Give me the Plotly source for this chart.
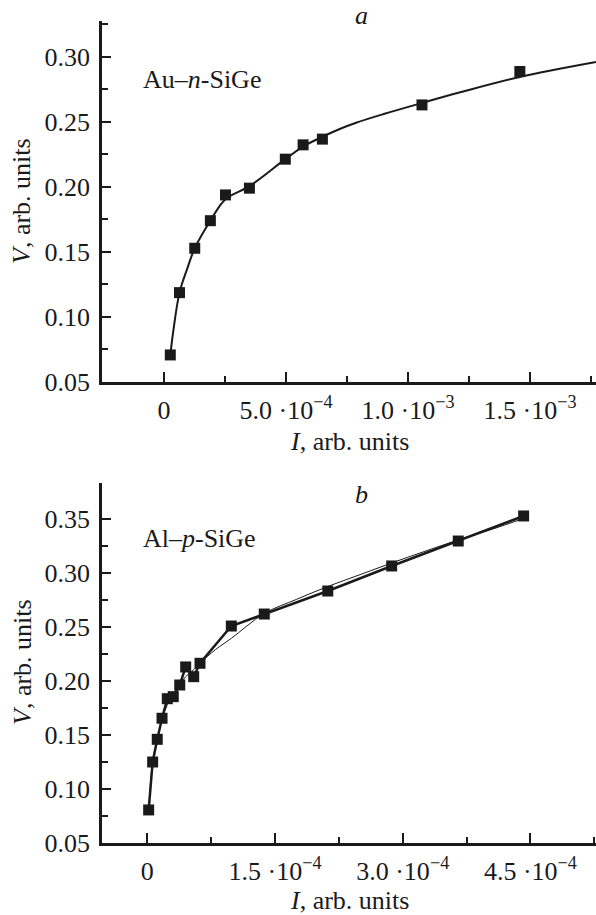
import plotly.graph_objects as go

# ---------------- Panel a : Au-n-SiGe ----------------
a_I = [2.58e-5, 6.35e-5, 1.26e-4, 1.90e-4, 2.52e-4, 3.50e-4, 4.97e-4, 5.70e-4, 6.49e-4, 1.057e-3, 1.458e-3]
a_V = [0.0708, 0.1187, 0.1528, 0.1740, 0.1938, 0.1990, 0.2213, 0.2323, 0.2367, 0.2630, 0.2887]
a_fit_I = [2.5e-5, 3.7e-5, 6.35e-5, 9.5e-5, 1.26e-4, 1.9e-4, 2.52e-4, 3.5e-4, 4.97e-4, 5.7e-4,
           6.49e-4, 7.2e-4, 7.9e-4, 9.0e-4, 1.057e-3, 1.21e-3, 1.458e-3, 1.77e-3]
a_fit_V = [0.069, 0.0875, 0.1187, 0.137, 0.1528, 0.174, 0.1905, 0.2005, 0.2213, 0.2310,
           0.2385, 0.2445, 0.2495, 0.2560, 0.2645, 0.2725, 0.2845, 0.2960]
a_xticks = [0, 5e-4, 1e-3, 1.5e-3]
a_xticktext = ["0", "5.0 ·10<sup>−4</sup>", "1.0 ·10<sup>−3</sup>", "1.5 ·10<sup>−3</sup>"]
a_xminor = [2.5e-4, 7.5e-4, 1.25e-3, 1.75e-3]
a_yticks = [0.05, 0.10, 0.15, 0.20, 0.25, 0.30]
a_yticktext = ["0.05", "0.10", "0.15", "0.20", "0.25", "0.30"]
a_yminor = [0.075, 0.125, 0.175, 0.225, 0.275, 0.325]

# ---------------- Panel b : Al-p-SiGe ----------------
b_I = [1.6e-6, 6.3e-6, 1.17e-5, 1.73e-5, 2.35e-5, 3.05e-5, 3.81e-5, 4.51e-5, 5.45e-5, 6.19e-5,
       9.87e-5, 1.374e-4, 2.12e-4, 2.87e-4, 3.652e-4, 4.42e-4]
b_V = [0.0806, 0.125, 0.146, 0.1655, 0.1836, 0.1855, 0.1963, 0.213, 0.204, 0.2164,
       0.2509, 0.262, 0.2833, 0.3065, 0.3296, 0.3528]
b_fit_I = [1.6e-6, 6.3e-6, 1.17e-5, 1.73e-5, 2.35e-5, 3.05e-5, 3.81e-5, 4.51e-5, 5.45e-5, 6.19e-5,
           8.0e-5, 9.87e-5, 1.374e-4, 1.75e-4, 2.12e-4, 2.5e-4, 2.87e-4, 3.25e-4, 3.65e-4, 4.05e-4, 4.42e-4]
b_fit_V = [0.0806, 0.125, 0.146, 0.1645, 0.178, 0.188, 0.197, 0.204, 0.2105, 0.2165,
           0.229, 0.2395, 0.2625, 0.2755, 0.2875, 0.2985, 0.3093, 0.3198, 0.3305, 0.3405, 0.3505]
b_xticks = [0, 1.5e-4, 3.0e-4, 4.5e-4]
b_xticktext = ["0", "1.5 ·10<sup>−4</sup>", "3.0 ·10<sup>−4</sup>", "4.5 ·10<sup>−4</sup>"]
b_xminor = [0.75e-4, 2.25e-4, 3.75e-4, 5.25e-4]
b_yticks = [0.05, 0.10, 0.15, 0.20, 0.25, 0.30, 0.35]
b_yticktext = ["0.05", "0.10", "0.15", "0.20", "0.25", "0.30", "0.35"]
b_yminor = [0.075, 0.125, 0.175, 0.225, 0.275, 0.325]

FONT = "Liberation Serif, Times New Roman, serif"
FS = 26
BLACK = "#1a1a1a"

fig = go.Figure()

# panel a
fig.add_trace(go.Scatter(x=a_fit_I, y=a_fit_V, mode="lines", line=dict(color=BLACK, width=2, shape="spline", smoothing=1.0),
                         xaxis="x", yaxis="y", hoverinfo="skip"))
fig.add_trace(go.Scatter(x=a_I, y=a_V, mode="markers", marker=dict(symbol="square", size=11, color=BLACK),
                         xaxis="x", yaxis="y"))
# panel b
fig.add_trace(go.Scatter(x=b_fit_I, y=b_fit_V, mode="lines", line=dict(color=BLACK, width=1, shape="spline", smoothing=1.0),
                         xaxis="x2", yaxis="y2", hoverinfo="skip"))
fig.add_trace(go.Scatter(x=b_I, y=b_V, mode="lines+markers", line=dict(color=BLACK, width=2.5),
                         marker=dict(symbol="square", size=11, color=BLACK),
                         xaxis="x2", yaxis="y2"))


def xaxis(rng, tv, tt, minor, anchor):
    return dict(range=rng, tickmode="array", tickvals=tv, ticktext=tt, showgrid=False, zeroline=False,
                showline=True, linecolor=BLACK, linewidth=2.5, ticks="inside", ticklen=10, tickwidth=1.5,
                tickcolor=BLACK, tickfont=dict(family=FONT, size=FS, color=BLACK), anchor=anchor,
                ticklabelstandoff=3,
                minor=dict(tickmode="array", tickvals=minor, ticks="inside", ticklen=6, tickwidth=1.5, tickcolor=BLACK))


def yaxis(rng, tv, tt, minor, dom, anchor):
    return dict(range=rng, domain=dom, tickmode="array", tickvals=tv, ticktext=tt, showgrid=False, zeroline=False,
                showline=True, linecolor=BLACK, linewidth=2.5, ticks="inside", ticklen=9, tickwidth=1.5,
                tickcolor=BLACK, tickfont=dict(family=FONT, size=FS, color=BLACK), anchor=anchor,
                ticklabelstandoff=4,
                minor=dict(tickmode="array", tickvals=minor, ticks="inside", ticklen=6, tickwidth=1.5, tickcolor=BLACK))


L, R, T, B = 102, 0, 21, 72
W, H = 596, 915
ph = H - T - B


def py(pix):
    return (H - B - pix) / ph


def px(pix):
    return (pix - L) / (W - L - R)


fig.update_layout(
    width=W, height=H, margin=dict(l=L, r=R, t=T, b=B),
    paper_bgcolor="white", plot_bgcolor="white", showlegend=False,
    font=dict(family=FONT, size=FS, color=BLACK),
    xaxis=xaxis([-2.54e-4, 1.77e-3], a_xticks, a_xticktext, a_xminor, "y"),
    yaxis=yaxis([0.05, 0.3275], a_yticks, a_yticktext, a_yminor, [py(382), 1.0], "x"),
    xaxis2=xaxis([-0.532e-4, 5.27e-4], b_xticks, b_xticktext, b_xminor, "y2"),
    yaxis2=yaxis([0.05, 0.3836], b_yticks, b_yticktext, b_yminor, [0.0, py(482.7)], "x2"),
)

ann = [
    dict(text="<i>I</i>, arb. units", x=px(349), y=py(441)),
    dict(text="<i>I</i>, arb. units", x=px(349), y=py(900)),
    dict(text="<i>V</i>, arb. units", x=px(22), y=py(201), textangle=-90),
    dict(text="<i>V</i>, arb. units", x=px(22), y=py(662), textangle=-90),
    dict(text="<i>a</i>", x=px(361), y=py(16)),
    dict(text="<i>b</i>", x=px(361), y=py(494)),
    dict(text="Au–<i>n</i>-SiGe", x=px(141), y=py(79), xanchor="left"),
    dict(text="Al–<i>p</i>-SiGe", x=px(141), y=py(538), xanchor="left"),
]
for a in ann:
    base = dict(xref="paper", yref="paper", showarrow=False, xanchor="center", yanchor="middle",
                font=dict(family=FONT, size=FS, color=BLACK))
    base.update(a)
    fig.add_annotation(**base)

fig.write_html("out.html", config={"displayModeBar": False},
               post_script="document.body.style.margin='0px';document.body.style.overflow='hidden';")
